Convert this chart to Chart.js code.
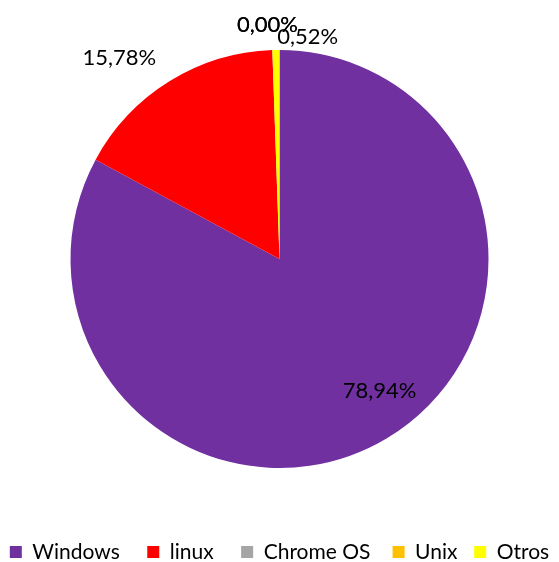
<!DOCTYPE html>
<html>
<head>
<meta charset="utf-8">
<script src="https://cdn.jsdelivr.net/npm/chart.js@4/dist/chart.umd.min.js"></script>
<style>
  html, body { margin: 0; padding: 0; background: #fff; }
  #wrap { width: 559px; height: 562px; position: relative; }
</style>
</head>
<body>
<div id="wrap"><canvas id="c"></canvas></div>
<script>
// ---- data ----
const categories = ['Windows', 'linux', 'Chrome OS', 'Unix', 'Otros'];
const values = [78.94, 15.78, 0.00, 0.00, 0.52];
const valueLabels = ['78,94%', '15,78%', '0,00%', '0,00%', '0,52%'];

// ---- styles ----
const colors = ['#7030A0', '#FF0000', '#A5A5A5', '#FFC000', '#FFFF00'];
const labelRadius = [0.72, 1.2, 1.12, 1.12, 1.07];   // fraction of outer radius
const labelShift = [[23, 3], [-28, 12], [-4, 0], [-4, 0], [32, 2]];
const legendGap = [4, 4, 3, 2, 0];                    // trailing spaces after each legend entry
const FONT = 'Lato, "Open Sans", sans-serif';

const labelPlugin = {
  id: 'sliceLabels',
  afterDatasetsDraw(chart) {
    const ctx = chart.ctx;
    const meta = chart.getDatasetMeta(0);
    ctx.save();
    ctx.font = '22px ' + FONT;
    ctx.fillStyle = '#000';
    ctx.textAlign = 'center';
    ctx.textBaseline = 'middle';
    meta.data.forEach((arc, i) => {
      const p = arc.getProps(['x', 'y', 'startAngle', 'endAngle', 'outerRadius'], true);
      const mid = (p.startAngle + p.endAngle) / 2;
      const r = p.outerRadius * labelRadius[i];
      const x = p.x + Math.cos(mid) * r + labelShift[i][0];
      const y = p.y + Math.sin(mid) * r + labelShift[i][1];
      ctx.fillText(valueLabels[i], x, y);
    });
    ctx.restore();
  }
};

new Chart(document.getElementById('c'), {
  type: 'pie',
  data: {
    labels: categories,
    datasets: [{
      data: values,
      backgroundColor: colors,
      borderColor: '#ffffff',
      borderWidth: 0,
      radius: 209
    }]
  },
  options: {
    responsive: true,
    maintainAspectRatio: false,
    animation: false,
    layout: { padding: { top: 0, bottom: -10.5, left: 0, right: 0 } },
    plugins: {
      tooltip: { enabled: false },
      legend: {
        position: 'bottom',
        title: {
          display: true,
          text: ' ',
          font: { size: 10, lineHeight: 1 },
          padding: { top: 7.5, bottom: 0 }
        },
        labels: {
          boxWidth: 12,
          boxHeight: 12,
          padding: 6,
          color: '#000',
          font: { family: FONT, size: 21 },
          generateLabels(chart) {
            const items = Chart.overrides.pie.plugins.legend.labels.generateLabels(chart);
            items.forEach((it, i) => { it.text = it.text + ' '.repeat(legendGap[i]); it.lineWidth = 0; });
            return items;
          }
        }
      }
    }
  },
  plugins: [labelPlugin]
});
</script>
</body>
</html>
